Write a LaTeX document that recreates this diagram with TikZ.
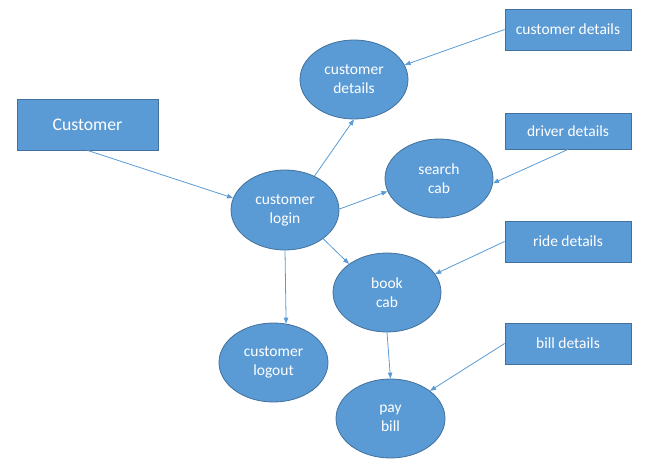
\documentclass[tikz,border=0pt]{standalone}
\usepackage{fontspec}
\setmainfont{Carlito}
\usetikzlibrary{shapes.geometric,arrows.meta}
\definecolor{fillblue}{HTML}{5B9BD5}
\definecolor{edgeblue}{HTML}{41719C}
\begin{document}
\begin{tikzpicture}[x=1pt,y=-1pt,
  proc/.style={ellipse,draw=edgeblue,fill=fillblue,line width=0.8pt,inner sep=0pt,
    minimum width=108pt,minimum height=79pt,text=white,align=center,
    font=\fontsize{15.5}{19}\selectfont},
  entity/.style={rectangle,draw=edgeblue,fill=fillblue,line width=0.8pt,inner sep=0pt,
    minimum width=126pt,minimum height=41pt,text=white,align=center,
    font=\fontsize{15.5}{19}\selectfont},
  flow/.style={draw=fillblue,line width=0.8pt,-{Triangle[length=6pt,width=4.5pt]}}]
\useasboundingbox (0,0) rectangle (665,468);
% external entities
\node[entity,minimum width=141pt,minimum height=51pt,font=\fontsize{17.7}{21}\selectfont] (cust) at (87.5,124.5) {Customer};
\node[entity] (cdrect) at (568,29.5) {customer details};
\node[entity,minimum height=36pt] (drv) at (568,131) {driver details};
\node[entity] (ride) at (568,241.5) {ride details};
\node[entity] (billr) at (568,343.5) {bill details};
% processes
\node[proc] (cdell) at (354,79.5) {customer\\details};
\node[proc] (search) at (439,178.5) {search\\cab};
\node[proc,minimum height=80pt] (login) at (285,210) {customer\\login};
\node[proc] (book) at (387,292.5) {book\\cab};
\node[proc,minimum width=109pt] (logout) at (273.5,362.5) {customer\\logout};
\node[proc,minimum width=109pt] (pay) at (390.5,418.5) {pay\\bill};
% flows
\draw[flow] (cust.south) -- (login.167);
\draw[flow] (cdrect.west) -- (cdell.16);
\draw[flow] (drv.south) -- (search.-5);
\draw[flow] (ride.west) -- (book.21);
\draw[flow] (billr.west) -- (pay.35);
\draw[flow] (login.49) -- (cdell.south);
\draw[flow] (login.1) -- (search.194);
\draw[flow] (login.-37) -- (book.143);
\draw[flow] (login.south) -- (logout.72);
\draw[flow] (book.south) -- (pay.north);
\end{tikzpicture}
\end{document}
